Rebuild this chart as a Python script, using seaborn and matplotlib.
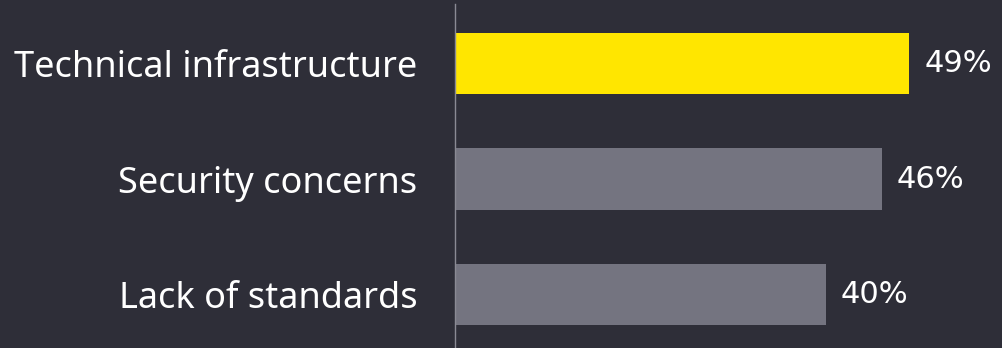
import matplotlib
matplotlib.use("Agg")
import matplotlib.pyplot as plt
import seaborn as sns
import pandas as pd

categories = ["Technical infrastructure", "Security concerns", "Lack of standards"]
values = [49, 46, 40]
value_labels = ["49%", "46%", "40%"]
bar_colors = ["#ffe600", "#747480", "#747480"]

BG = "#2e2e38"
sns.set_theme(style="white")
plt.rcParams['font.family'] = ['Noto Sans', 'DejaVu Sans']

df = pd.DataFrame({"cat": categories, "val": values})

fig = plt.figure(figsize=(10.03, 3.48), dpi=100, facecolor=BG)
ax = fig.add_axes([455/1003, 0, 510/1003, 344/348])
ax.set_facecolor(BG)
sns.barplot(data=df, y="cat", x="val", hue="cat", palette=bar_colors,
            legend=False, width=0.53, ax=ax, orient="h", saturation=1,
            linewidth=0, edgecolor="none")
ax.set_xlim(0, 55)
ax.set_ylim(2.463, -0.515)
for s in ["top", "right", "bottom"]:
    ax.spines[s].set_visible(False)
ax.spines["left"].set_color("#8a8a94")
ax.spines["left"].set_linewidth(1.0)
ax.set_xticks([])
ax.set_xlabel("")
ax.set_ylabel("")
ax.tick_params(axis="y", length=0, pad=27, labelsize=26, labelcolor="white")
for i, (v, lab) in enumerate(zip(values, value_labels)):
    ax.text(v + 1.6, i, lab, va="center", ha="left", color="white",
            fontsize=22, family=["DejaVu Sans"])

fig.savefig("out.png", dpi=100, facecolor=BG)
